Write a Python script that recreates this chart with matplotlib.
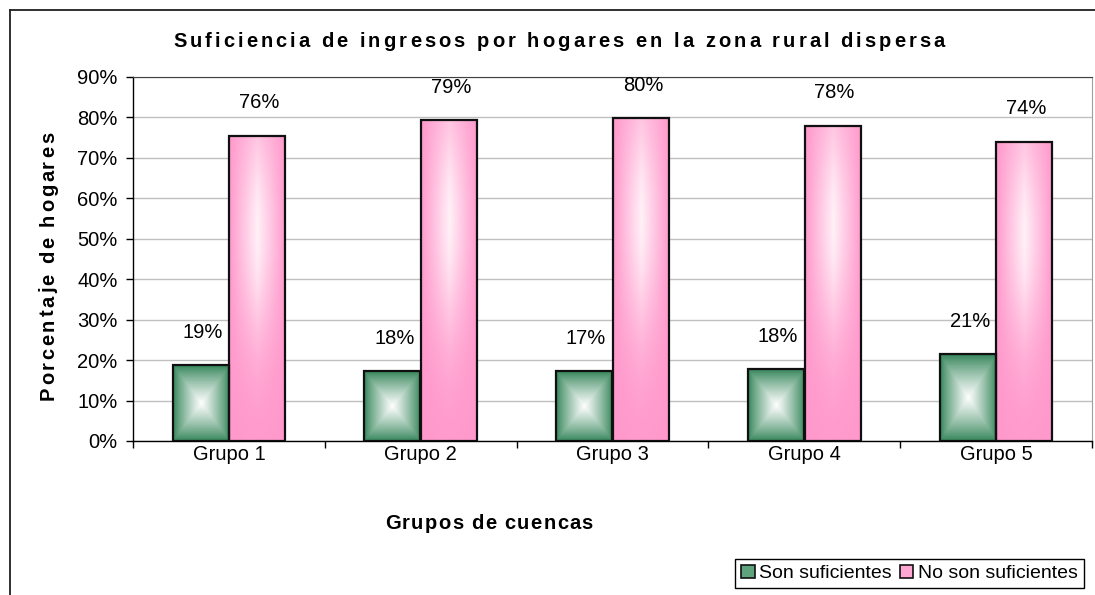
import numpy as np
import matplotlib
matplotlib.use("Agg")
import matplotlib.pyplot as plt
from matplotlib.lines import Line2D
from matplotlib.patches import Patch
from matplotlib.font_manager import FontProperties

# ---------------- data ----------------
categories = ["Grupo 1", "Grupo 2", "Grupo 3", "Grupo 4", "Grupo 5"]
son_suficientes = [18.7, 17.3, 17.2, 17.8, 21.4]
no_son_suficientes = [75.5, 79.3, 79.8, 78.0, 74.0]
labels_son = ["19%", "18%", "17%", "18%", "21%"]
labels_no = ["76%", "79%", "80%", "78%", "74%"]
series_names = ["Son suficientes", "No son suficientes"]
yticks = [0, 10, 20, 30, 40, 50, 60, 70, 80, 90]
ytick_labels = [f"{v}%" for v in yticks]
title = "Suficiencia de ingresos por hogares en la zona rural dispersa"
xlabel = "Grupos de cuencas"
ylabel = "Porcentaje de hogares"

# ---------------- layout ----------------
W, H = 1095, 595
fig = plt.figure(figsize=(W / 100, H / 100), dpi=100)
FONT = "Liberation Sans"
plt.rcParams["font.family"] = [FONT, "DejaVu Sans"]
TS = 14.5  # tick / label font size


def fx(px):
    return px / W


def fy(py):
    return 1 - py / H


# outer chart border (extends past the picture on the right and bottom)
fig.add_artist(Line2D([fx(10), fx(10)], [fy(10), -0.05], transform=fig.transFigure,
                      color="#202020", lw=1.3))
fig.add_artist(Line2D([fx(10), 1.05], [fy(10), fy(10)], transform=fig.transFigure,
                      color="#202020", lw=1.3))

ax = fig.add_axes([fx(133), fy(441), fx(1092) - fx(133), fy(77) - fy(441)])

green_edge = np.array([50, 132, 88]) / 255.0
pink_edge = np.array([255, 153, 204]) / 255.0
white = np.array([1.0, 1.0, 1.0])
pink_light = np.array([255, 242, 248]) / 255.0

N = 120
u = np.linspace(-1, 1, N)
U, V = np.meshgrid(u, u)
# green: rectangular (box) gradient, white centre
d = np.maximum(np.abs(U), np.abs(V))
fg = np.clip(1 - d, 0, 1) ** 0.85
green_img = green_edge[None, None, :] * (1 - fg[..., None]) + white[None, None, :] * fg[..., None]
# pink: horizontal glow, brightest in the upper part
vt = (V + 1) / 2  # 0 at top row (origin upper), 1 at bottom
fh = np.clip(1 - np.abs(U), 0, 1) ** 1.0
fv = np.exp(-((vt - 0.32) / 0.35) ** 2) * 0.9 + 0.12 * (1 - vt)
fp_ = np.clip(fh * fv, 0, 1)
pink_img = pink_edge[None, None, :] * (1 - fp_[..., None]) + pink_light[None, None, :] * fp_[..., None]

x = np.arange(len(categories))
bw = 0.292
off = 0.148
bars_g = ax.bar(x - off, son_suficientes, bw, facecolor="none", edgecolor="#101010",
                lw=1.6, zorder=4)
bars_p = ax.bar(x + off, no_son_suficientes, bw, facecolor="none", edgecolor="#101010",
                lw=1.6, zorder=4)

for b in bars_g:
    ax.imshow(green_img, extent=(b.get_x(), b.get_x() + b.get_width(), 0, b.get_height()),
              origin="upper", aspect="auto", interpolation="bilinear", zorder=3)
for b in bars_p:
    ax.imshow(pink_img, extent=(b.get_x(), b.get_x() + b.get_width(), 0, b.get_height()),
              origin="upper", aspect="auto", interpolation="bilinear", zorder=3)

for bars, labs in ((bars_g, labels_son), (bars_p, labels_no)):
    for b, lab in zip(bars, labs):
        ax.annotate(lab, (b.get_x() + b.get_width() / 2, b.get_height()),
                    xytext=(2, 33), textcoords="offset pixels", ha="center", va="center",
                    fontsize=TS, color="#000000", zorder=5)

ax.set_xlim(-0.5, len(categories) - 0.5)
ax.set_ylim(0, 90)
ax.set_yticks(yticks)
ax.set_yticklabels(ytick_labels)
ax.yaxis.grid(True, color="#C0C0C0", lw=1)
ax.set_axisbelow(True)
ax.set_xticks(np.arange(-0.5, len(categories), 1.0))
ax.set_xticklabels([])
ax.set_xticks(x, minor=True)
ax.set_xticklabels(categories, minor=True)
ax.tick_params(axis="x", which="major", length=5, width=1, direction="out")
ax.tick_params(axis="x", which="minor", length=0, pad=3, labelsize=TS)
ax.tick_params(axis="y", length=5, width=1, direction="out", pad=6, labelsize=TS)
for s in ("left", "bottom"):
    ax.spines[s].set_color("#000000")
    ax.spines[s].set_linewidth(1)
ax.spines["top"].set_color("#404040")
ax.spines["right"].set_color("#A0A0A0")

# letter-spaced bold labels
renderer = fig.canvas.get_renderer()
bold = FontProperties(family=FONT, weight="bold", size=14.5)


def tw(s, fp):
    w1, _, _ = renderer.get_text_width_height_descent(s + "|", fp, ismath=False)
    w2, _, _ = renderer.get_text_width_height_descent("|", fp, ismath=False)
    return w1 - w2


def spaced(s, center, baseline, target, fp, vertical=False):
    n = len(s)
    sp = (target - tw(s, fp)) / (n - 1)
    start = center - target / 2
    for k, ch in enumerate(s):
        if ch == " ":
            continue
        o = tw(s[:k], fp) + k * sp
        if not vertical:
            fig.text(fx(start + o), fy(baseline), ch, fontproperties=fp, ha="left",
                     va="baseline")
        else:
            fig.text(fx(baseline), fy(center + target / 2 - o), ch, fontproperties=fp,
                     ha="left", va="baseline", rotation=90, rotation_mode="anchor")


spaced(title, 559, 47, 772, bold)
spaced(xlabel, 489, 529, 208, bold)
spaced(ylabel, 266, 54, 268, bold, vertical=True)

handles = [Patch(facecolor="#5FA37C", edgecolor="#101010", lw=1.2),
           Patch(facecolor="#FFA6D3", edgecolor="#101010", lw=1.2)]
leg = fig.legend(handles, series_names, loc="lower right",
                 bbox_to_anchor=(fx(1084), fy(588)), ncol=2, fontsize=14,
                 frameon=True, fancybox=False, edgecolor="#000000", framealpha=1,
                 handlelength=0.7, handleheight=0.7, handletextpad=0.25,
                 columnspacing=0.4, borderpad=0.3, borderaxespad=0)
leg.get_frame().set_linewidth(1)

fig.savefig("out.png", dpi=100)
